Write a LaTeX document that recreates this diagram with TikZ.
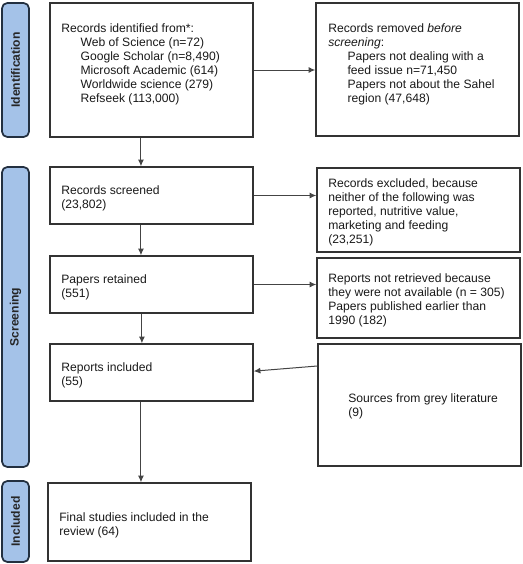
\documentclass[tikz,border=0pt]{standalone}
\usepackage{fontspec}
\setmainfont{Liberation Sans}
\usetikzlibrary{fit,arrows.meta}
\definecolor{barfill}{HTML}{A4C2E8}
\definecolor{barline}{HTML}{233040}
\definecolor{boxline}{HTML}{333333}
\definecolor{arrowc}{HTML}{444444}
\tikzset{
  box/.style={draw=boxline, line width=1.1pt, inner sep=0pt, rectangle},
  bar/.style={draw=barline, fill=barfill, line width=1.3pt, inner sep=0pt, rounded corners=4pt},
  barlabel/.style={rotate=90, font=\fontsize{9.1}{10.5}\selectfont\bfseries, text=black!85},
  txt/.style={anchor=north west, align=left, inner sep=0pt, font=\fontsize{9.1}{10.5}\selectfont, text=black!90},
  arr/.style={draw=arrowc, line width=0.75pt, -{Latex[length=5pt,width=4.5pt]}}
}
\newcommand{\ind}{\hspace*{14.5pt}}
\begin{document}
\begin{tikzpicture}[x=0.75pt,y=-0.75pt]
\useasboundingbox (0,0) rectangle (522,564);
% side bars
\node[bar, fit={(2,3) (29,137)}, label={[barlabel]center:Identification}] (s1) {};
\node[bar, fit={(2,167) (29,467)}, label={[barlabel]center:Screening}] (s2) {};
\node[bar, fit={(2,481) (29,562)}, label={[barlabel]center:Included}] (s3) {};
% boxes
\node[box, fit={(50,3) (253,137)}] (b1) {};
\node[box, fit={(316,3) (519,136)}] (r1) {};
\node[box, fit={(50,167) (253,224)}] (b2) {};
\node[box, fit={(317,168) (520,252)}] (r2) {};
\node[box, fit={(50,256) (253,313)}] (b3) {};
\node[box, fit={(317,258) (520,338)}] (r3) {};
\node[box, fit={(50,344) (253,401)}] (b4) {};
\node[box, fit={(318,344) (521,466)}] (r4) {};
\node[box, fit={(48,483) (251,561)}] (b5) {};
% texts
\node[txt] (t1) at (61,23) {Records identified from*:\\
\ind Web of Science (n=72)\\
\ind Google Scholar (n=8,490)\\
\ind Microsoft Academic (614)\\
\ind Worldwide science (279)\\
\ind Refseek (113,000)};
\node[txt] (tr1) at (328,23) {Records removed \emph{before}\\
\emph{screening}:\\
\ind Papers not dealing with a\\
\ind feed issue n=71,450\\
\ind Papers not about the Sahel\\
\ind region (47,648)};
\node[txt] (t2) at (61,185) {Records screened\\(23,802)};
\node[txt] (tr2) at (328,178) {Records excluded, because\\
neither of the following was\\
reported, nutritive value,\\
marketing and feeding\\
(23,251)};
\node[txt] (t3) at (61,274) {Papers retained\\(551)};
\node[txt] (tr3) at (328,273) {Reports not retrieved because\\
they were not available (n = 305)\\
Papers published earlier than\\
1990 (182)};
\node[txt] (t4) at (61,362) {Reports included\\(55)};
\node[txt] (tr4) at (348,393) {Sources from grey literature\\(9)};
\node[txt] (t5) at (59,512) {Final studies included in the\\review (64)};
% connectors
\draw[arr] ([xshift=-7.9pt]b1.south) -- ([xshift=-7.9pt]b1.south |- b2.north);
\draw[arr] ([xshift=-7.9pt]b2.south) -- ([xshift=-7.9pt]b2.south |- b3.north);
\draw[arr] ([xshift=-7.2pt]b3.south) -- ([xshift=-7.2pt]b3.south |- b4.north);
\draw[arr] ([xshift=-7.9pt]b4.south) -- ([xshift=-7.9pt]b4.south |- b5.north);
\draw[arr] (b1.east) -- (b1.east -| r1.west);
\draw[arr] (b2.east) -- (b2.east -| r2.west);
\draw[arr] (b3.east) -- (b3.east -| r3.west);
\draw[arr] ([yshift=29.25pt]r4.west) -- ([yshift=1pt]b4.east);
\end{tikzpicture}
\end{document}
